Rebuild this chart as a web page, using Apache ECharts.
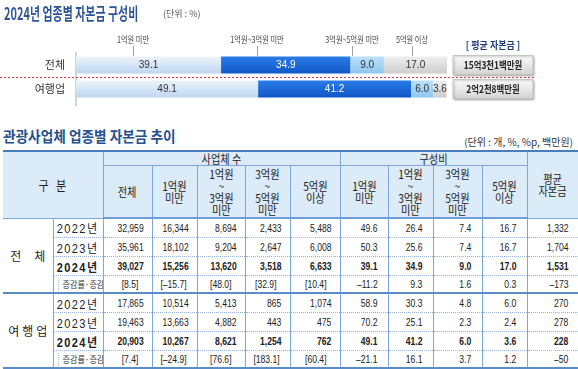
<!DOCTYPE html>
<html><head><meta charset="utf-8">
<script src="https://cdn.jsdelivr.net/npm/echarts@6/dist/echarts.min.js"></script>
<style>
html,body{margin:0;padding:0;background:#fff;}
#wrap{position:relative;width:578px;height:369px;overflow:hidden;font-family:'Noto Sans CJK KR',sans-serif;background:#fff;}
#chart{position:absolute;left:0;top:0;width:578px;height:112px;}
.ttl{position:absolute;white-space:nowrap;font-weight:bold;transform-origin:left center;z-index:2;}
#t1{left:4px;top:0px;font-size:17px;color:#2e5596;transform:scaleX(.645);}
#u1{position:absolute;left:163px;top:7px;font-size:9px;color:#555;z-index:2;}
#t2{left:3px;top:125px;font-size:15px;color:#24508f;transform:scaleX(.91);}
#u2{position:absolute;right:5px;top:134px;font-size:10px;color:#333;white-space:nowrap;}
#tbl{position:absolute;left:3px;top:150px;border-collapse:collapse;table-layout:fixed;width:575px;color:#222;}
#tbl td{padding:0;overflow:hidden;white-space:nowrap;border-left:1px solid #80a8d6;border-right:1px solid #80a8d6;}
#tbl tr td:first-child{border-left:none;}
#tbl tr td:last-child{border-right:none;}
tr.h1 td{border-top:2px solid #4a7ebb;height:13px;}
tr.h2 td{height:51px;}
.hd{background:#dcebf8;text-align:center;border-bottom:1px solid #80a8d6;font-size:12px;line-height:12px;}
tr.h2 td{border-bottom:2px solid #6f9ed4;}
.hd span{display:inline-block;transform:scaleX(.85);}
tr.d td{border-bottom:1px dotted #97b3d8;height:18px;}
tr.d.c td{height:16px;}
tr.d.last td{border-bottom:2px solid #5a8cc8;}
td.grp{border-bottom:2px solid #5a8cc8 !important;text-align:center;font-size:12px;}
td.yr{text-align:center;font-family:'Liberation Sans','Noto Sans CJK KR';font-size:12px;letter-spacing:1.5px;}
td.yr span{display:inline-block;transform:scaleX(.92);}
td.chg{text-align:left;font-size:9px;color:#333;}
td.chg span{display:inline-block;border-left:1px dotted #97b3d8;padding-left:4px;margin-left:4px;transform:scaleX(.9);transform-origin:left center;}
td.v{text-align:right;padding-right:8px !important;font-family:'Liberation Sans',sans-serif;font-size:11px;}
td.v.br{padding-right:13px !important;}
td.v.sh{padding-right:10px !important;}
td.v span{display:inline-block;transform:scaleX(.78);transform-origin:right center;}
tr.bold td.v, tr.bold td.yr{font-weight:bold;}
</style></head>
<body>
<div id="wrap">
  <div id="chart"></div>
  <div class="ttl" id="t1">2024년 업종별 자본금 구성비</div>
  <div id="u1">(단위 : %)</div>
  <div class="ttl" id="t2">관광사업체 업종별 자본금 추이</div>
  <div id="u2">(단위 : 개, %, %p, 백만원)</div>
  <table id="tbl"></table>
</div>
<script>
// ---------- top chart data ----------
const barCats = ['전체', '여행업'];
const segNames = ['1억원 미만', '1억원~3억원 미만', '3억원~5억원 미만', '5억원 이상'];
const segUnder1 = [39.1, 49.1];
const seg1to3 = [34.9, 41.2];
const seg3to5 = [9.0, 6.0];
const segOver5 = [17.0, 3.6];
const avgCapitalText = ['15억3천1백만원', '2억2천8백만원'];
const avgCapitalTitle = '[ 평균 자본금 ]';

// ---------- table data ----------
const groups = ['전체', '여행업'];
const years = ['2022년', '2023년', '2024년'];
const changeLabel = '증감률·증감';
const headGroup = '구 분';
const headCount = '사업체 수';
const headShare = '구성비';
const headAvg = '평균\n자본금';
const countHeads = ['전체', '1억원\n미만', '1억원\n~\n3억원\n미만', '3억원\n~\n5억원\n미만', '5억원\n이상'];
const shareHeads = ['1억원\n미만', '1억원\n~\n3억원\n미만', '3억원\n~\n5억원\n미만', '5억원\n이상'];

const totalCounts = [[32959, 16344, 8694, 2433, 5488], [35961, 18102, 9204, 2647, 6008], [39027, 15256, 13620, 3518, 6633]];
const totalShares = [[49.6, 26.4, 7.4, 16.7], [50.3, 25.6, 7.4, 16.7], [39.1, 34.9, 9.0, 17.0]];
const totalAvg = [1332, 1704, 1531];
const totalCountRate = [8.5, -15.7, 48.0, 32.9, 10.4];
const totalShareDiff = [-11.2, 9.3, 1.6, 0.3];
const totalAvgDiff = -173;

const travelCounts = [[17865, 10514, 5413, 865, 1074], [19463, 13663, 4882, 443, 475], [20903, 10267, 8621, 1254, 762]];
const travelShares = [[58.9, 30.3, 4.8, 6.0], [70.2, 25.1, 2.3, 2.4], [49.1, 41.2, 6.0, 3.6]];
const travelAvg = [270, 278, 228];
const travelCountRate = [7.4, -24.9, 76.6, 183.1, 60.4];
const travelShareDiff = [-21.1, 16.1, 3.7, 1.2];
const travelAvgDiff = -50;

// ---------- build table ----------
const fmtInt = v => (v < 0 ? '–' : '') + Math.abs(v).toLocaleString('en-US');
const fmt1 = v => (v < 0 ? '–' : '') + Math.abs(v).toFixed(1);
const sp = s => '<span>' + s.replace(/\n/g, '<br>') + '</span>';
let html = '<colgroup>' + [50, 50, 49, 45, 48, 45, 50, 48, 45, 49, 45, 51].map(w => '<col style="width:' + w + 'px">').join('') + '</colgroup>';
html += '<tr class="h1"><td class="hd" colspan="2" rowspan="2" style="font-size:13px">' + sp(headGroup.replace(' ', '&nbsp;&nbsp;&nbsp;')) + '</td>' +
  '<td class="hd" colspan="5">' + sp(headCount) + '</td><td class="hd" colspan="4">' + sp(headShare) + '</td>' +
  '<td class="hd" rowspan="2">' + sp(headAvg) + '</td></tr>';
html += '<tr class="h2">' + countHeads.concat(shareHeads).map(h => '<td class="hd">' + sp(h) + '</td>').join('') + '</tr>';
const sets = [
  [totalCounts, totalShares, totalAvg, totalCountRate, totalShareDiff, totalAvgDiff],
  [travelCounts, travelShares, travelAvg, travelCountRate, travelShareDiff, travelAvgDiff]
];
const grpGap = [13, 3];
sets.forEach((s, g) => {
  const [cnt, shr, avg, cr, sd, ad] = s;
  const label = groups[g].split('').map((ch, k) => '<span style="display:inline-block;margin-left:' + (k ? grpGap[g] : 0) + 'px">' + ch + '</span>').join('');
  for (let r = 0; r < 3; r++) {
    html += '<tr class="d' + (r === 2 ? ' bold' : '') + '">';
    if (r === 0) html += '<td class="grp" rowspan="4">' + label + '</td>';
    html += '<td class="yr"><span>' + years[r] + '</span></td>';
    cnt[r].forEach(v => html += '<td class="v">' + sp(fmtInt(v)) + '</td>');
    shr[r].forEach(v => html += '<td class="v sh">' + sp(fmt1(v)) + '</td>');
    html += '<td class="v sh">' + sp(fmtInt(avg[r])) + '</td></tr>';
  }
  html += '<tr class="d c last"><td class="chg"><span>' + changeLabel + '</span></td>';
  cr.forEach(v => html += '<td class="v br">' + sp('[' + fmt1(v) + ']') + '</td>');
  sd.forEach(v => html += '<td class="v sh">' + sp(fmt1(v)) + '</td>');
  html += '<td class="v sh">' + sp(fmtInt(ad)) + '</td></tr>';
});
document.getElementById('tbl').innerHTML = html;

// ---------- chart ----------
const FONT = "'Noto Sans CJK KR', sans-serif";
const NUMFONT = "'Liberation Sans Narrow', 'Liberation Sans', sans-serif";
const grad = (a, b) => new echarts.graphic.LinearGradient(0, 0, 0, 1, [{offset: 0, color: a}, {offset: 1, color: b}]);
const segData = [segUnder1, seg1to3, seg3to5, segOver5];
const segColors = [grad('#edf4fc', '#bfd6f0'), grad('#2a7ce8', '#0f58c6'), grad('#bde0fa', '#8ec7f0'), grad('#efefef', '#cdcdcd')];
const segLabelColors = ['#333', '#fff', '#333', '#333'];

const chart = echarts.init(document.getElementById('chart'), null, {renderer: 'canvas'});
chart.setOption({
  animation: false,
  grid: {left: 76, top: 53, width: 371, height: 48},
  xAxis: {type: 'value', min: 0, max: 100, show: false},
  yAxis: {
    type: 'category', data: barCats, inverse: true,
    axisLine: {show: false}, axisTick: {show: false},
    axisLabel: {color: '#333', fontSize: 11, margin: 11, fontFamily: FONT}
  },
  series: segData.map((d, i) => ({
    type: 'bar', name: segNames[i], stack: 'all', data: d, barWidth: 17,
    itemStyle: {color: segColors[i]},
    label: {show: true, position: 'inside', color: segLabelColors[i], fontSize: 10, fontFamily: NUMFONT,
      formatter: p => p.value.toFixed(1)}
  }))
});

// annotations positioned relative to the chart scale
const annX = [133, 257, 352, 412];
const g = [];
const yTop = chart.convertToPixel({yAxisIndex: 0}, barCats[0]);
const yBot = chart.convertToPixel({yAxisIndex: 0}, barCats[1]);
const x0 = chart.convertToPixel({xAxisIndex: 0}, 0);
g.push({type: 'line', shape: {x1: x0, y1: 52, x2: x0, y2: 106}, style: {stroke: '#a8a8a8', lineWidth: 1}});
segNames.forEach((n, i) => {
  g.push({type: 'text', x: annX[i], y: 40, scaleX: 0.8,
    style: {text: n, fill: '#444', fontSize: 9, fontFamily: FONT, align: 'center', verticalAlign: 'middle'}});
  g.push({type: 'line', shape: {x1: annX[i] + 0.5, y1: 46, x2: annX[i] + 0.5, y2: 56}, style: {stroke: '#a0a0a0', lineWidth: 1}});
});
g.push({type: 'line', shape: {x1: 0, y1: (yTop + yBot) / 2 + 0.5, x2: 535, y2: (yTop + yBot) / 2 + 0.5},
  style: {stroke: '#e0353a', lineWidth: 1, lineDash: [2, 2]}});
const boxCx = 493;
g.push({type: 'text', x: boxCx, y: 45, scaleX: 0.9,
  style: {text: avgCapitalTitle, fill: '#1f3d7a', fontSize: 10, fontWeight: 'bold', fontFamily: FONT, align: 'center', verticalAlign: 'middle'}});
[yTop, yBot].forEach((yc, i) => {
  g.push({type: 'rect', shape: {x: boxCx - 40, y: yc - 9.5, width: 80, height: 19},
    style: {fill: grad('#fdfdfd', '#d2d2d2'), stroke: '#c4c4c4', lineWidth: 1, shadowColor: 'rgba(0,0,0,0.25)', shadowOffsetX: 1, shadowOffsetY: 1, shadowBlur: 2}});
  g.push({type: 'text', x: boxCx, y: yc, scaleX: 0.8,
    style: {text: avgCapitalText[i], fill: '#222', fontSize: 10.5, fontWeight: 'bold', fontFamily: FONT, align: 'center', verticalAlign: 'middle'}});
});
chart.setOption({graphic: g});
</script>
</body></html>
